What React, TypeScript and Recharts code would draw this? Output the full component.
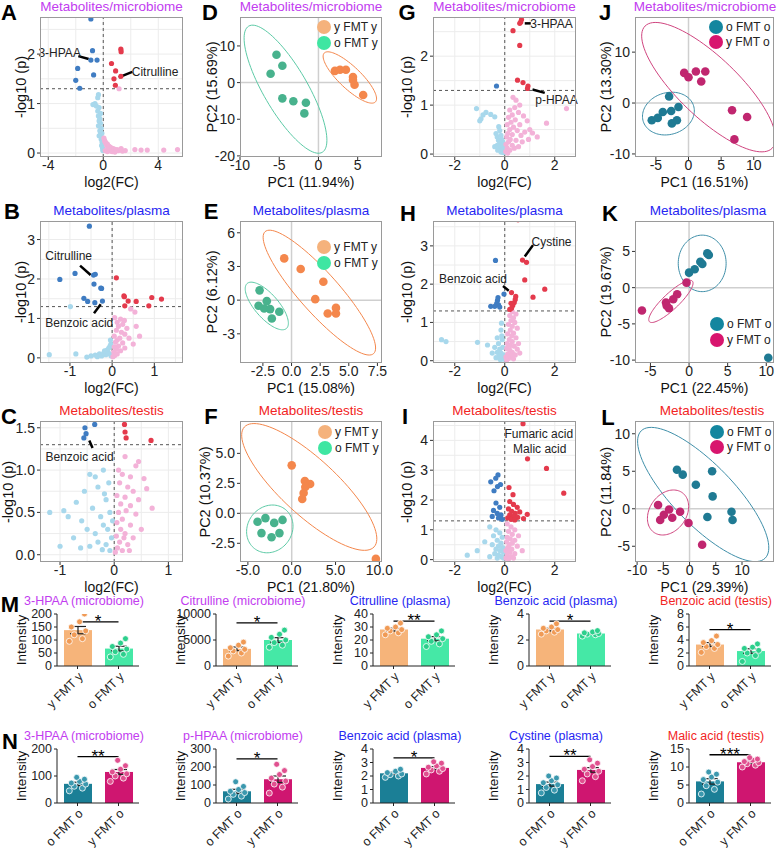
import React from 'react';
import {
  ScatterChart, Scatter, ComposedChart, Bar, ErrorBar, Cell, XAxis, YAxis,
  CartesianGrid, ReferenceLine, ReferenceDot,
} from 'recharts';

type Pt = [number, number];

const FONT = '"Liberation Sans", Arial, Helvetica, sans-serif';
const MICRO = '#c23cf0';
const PLASMA = '#2626f2';
const TESTIS = '#f22424';

// volcano colours
const BLUE = '#3f7cc2';
const LBLUE = '#a8d8ec';
const RED = '#e43a4c';
const PINK = '#f3b2d8';

// ---------- A: volcano, microbiome (young donors) ----------
const aUp: Pt[] = [[1.28, 2.1], [1.3, 2.05], [0.6, 1.81], [0.9, 1.66], [0.78, 1.5], [1.28, 1.55], [0.88, 1.37]];
const aDown: Pt[] = [[-0.9, 2.71], [-0.78, 2.07], [-0.9, 1.88], [-0.45, 1.88], [-1.86, 1.71], [-0.7, 1.58], [-2.0, 1.47], [-1.71, 1.31]];
const aNsDown: Pt[] = [[-0.35, 1.18], [-0.4, 1.12], [-0.6, 1.0], [-0.75, 0.98], [-0.5, 0.95], [-0.3, 0.92], [-0.4, 0.85], [-0.2, 0.8], [-0.35, 0.75], [-0.25, 0.7], [-0.3, 0.65], [-0.2, 0.6], [-0.35, 0.55], [-0.15, 0.5], [-0.25, 0.45], [-0.1, 0.4], [-0.2, 0.38], [-0.3, 0.35], [-0.05, 0.3], [-0.15, 0.28], [-0.08, 0.22], [-0.02, 0.18], [-0.12, 0.15], [-0.05, 0.1], [-0.03, 0.05]];
const aNsUp: Pt[] = [[0.05, 0.3], [0.1, 0.25], [0.15, 0.22], [0.2, 0.2], [0.3, 0.18], [0.25, 0.15], [0.4, 0.14], [0.5, 0.12], [0.35, 0.1], [0.6, 0.1], [0.7, 0.09], [0.8, 0.08], [0.9, 0.06], [1.0, 0.07], [1.1, 0.05], [1.2, 0.06], [1.4, 0.04], [1.6, 0.05], [0.45, 0.06], [0.55, 0.04], [0.15, 0.05], [0.3, 0.03], [0.65, 0.03], [0.85, 0.02], [1.3, 0.09], [2.3, 0.07], [2.75, 0.06], [3.2, 0.06], [4.4, 0.06], [5.4, 0.07], [1.15, 1.3]];

// ---------- B: volcano, plasma (young donors) ----------
const bUp: Pt[] = [[0.1, 2.03], [0.28, 1.57], [0.29, 1.55], [0.38, 1.44], [0.57, 1.43], [0.3, 1.32], [0.94, 1.53], [1.17, 1.49], [0.87, 1.32]];
const bDown: Pt[] = [[-0.54, 3.34], [-1.24, 1.99], [-0.88, 2.14], [-0.44, 2.1], [-0.4, 2.12], [-0.43, 1.87], [-0.25, 1.76], [-0.27, 1.77], [-0.67, 1.51], [-0.58, 1.43], [-0.41, 1.4], [-0.23, 1.44]];
const bNsDown: Pt[] = [[-0.99, 1.3], [-1.49, 0.08], [-0.86, 0.1], [-0.6, 0.02], [-0.5, 0.05], [-0.4, 0.07], [-0.3, 0.1], [-0.25, 0.05], [-0.2, 0.12], [-0.15, 0.08], [-0.12, 0.2], [-0.1, 0.15], [-0.08, 0.25], [-0.05, 0.3], [-0.06, 0.1], [-0.03, 0.35], [-0.02, 0.05], [-0.35, 0.03], [-0.18, 0.18], [-0.04, 0.45]];
const bNsUp: Pt[] = [[0.44, 1.24], [0.54, 1.16], [0.06, 1.02], [0.2, 0.98], [0.29, 0.95], [0.12, 0.9], [0.25, 0.85], [0.15, 0.8], [0.57, 0.8], [0.35, 0.75], [0.1, 0.7], [0.22, 0.65], [0.3, 0.6], [0.05, 0.55], [0.18, 0.5], [0.12, 0.45], [0.4, 0.5], [0.08, 0.4], [0.25, 0.38], [0.15, 0.3], [0.05, 0.28], [0.3, 0.25], [0.1, 0.22], [0.2, 0.18], [0.04, 0.15], [0.12, 0.1], [0.06, 0.06], [0.02, 0.03], [0.5, 0.35], [0.65, 0.55]];

// ---------- C: volcano, testis (young donors) ----------
const cUp: Pt[] = [[0.19, 1.54], [0.2, 1.45], [0.22, 1.38], [0.68, 1.35]];
const cDown: Pt[] = [[-0.36, 1.54], [-0.54, 1.5], [-0.52, 1.43], [-0.56, 1.38]];
const cNsDown: Pt[] = [[-1.19, 0.5], [-0.93, 0.52], [-0.85, 0.45], [-0.45, 0.95], [-0.35, 0.92], [-0.2, 1.0], [-0.55, 0.75], [-0.7, 0.62], [-0.3, 0.8], [-0.1, 0.85], [-0.15, 0.65], [-0.4, 0.55], [-0.6, 0.4], [-0.25, 0.45], [-0.08, 0.5], [-0.5, 0.3], [-0.35, 0.25], [-0.2, 0.35], [-0.75, 0.2], [-0.12, 0.3], [-0.05, 0.2], [-0.3, 0.15], [-0.45, 0.1], [-0.15, 0.12], [-0.08, 0.05], [-0.22, 0.06], [-1.0, 0.1], [-0.62, 0.08], [-0.03, 0.4], [-0.18, 0.72]];
const cNsUp: Pt[] = [[0.2, 1.16], [0.45, 1.1], [0.4, 1.05], [0.15, 0.95], [0.3, 0.92], [0.55, 0.9], [0.1, 0.85], [0.25, 0.8], [0.6, 0.78], [0.35, 0.75], [0.05, 0.7], [0.2, 0.68], [0.45, 0.65], [0.12, 0.6], [0.3, 0.58], [0.08, 0.5], [0.22, 0.52], [0.4, 0.48], [0.15, 0.42], [0.05, 0.38], [0.3, 0.35], [0.12, 0.3], [0.2, 0.25], [0.04, 0.22], [0.35, 0.2], [0.1, 0.15], [0.25, 0.12], [0.06, 0.08], [0.15, 0.05], [0.02, 0.03], [0.5, 0.3], [0.7, 0.55], [0.08, 1.0], [0.18, 0.2], [0.28, 0.05]];

// ---------- G: volcano, microbiome (old recipients) ----------
const gUp: Pt[] = [[0.67, 2.75], [0.64, 2.7], [0.6, 2.67], [0.33, 2.52], [0.6, 2.22], [0.51, 1.51], [0.73, 1.46], [0.93, 1.39], [0.91, 1.34]];
const gDown: Pt[] = [[-0.33, 1.39]];
const gNsDown: Pt[] = [[-1.13, 0.93], [-0.87, 0.8], [-0.95, 0.72], [-0.75, 0.85], [-0.56, 0.81], [-0.4, 0.76], [-1.0, 0.68], [-0.24, 0.56], [-0.2, 0.48], [-0.35, 0.42], [-0.3, 0.35], [-0.15, 0.38], [-0.25, 0.28], [-0.12, 0.3], [-0.2, 0.22], [-0.08, 0.25], [-0.3, 0.18], [-0.15, 0.15], [-0.05, 0.18], [-0.22, 0.1], [-0.1, 0.08], [-0.03, 0.1], [-0.15, 0.04], [-0.06, 0.03], [-0.4, 0.15], [-0.28, 0.08]];
const gNsUp: Pt[] = [[0.33, 1.16], [0.45, 1.1], [0.6, 1.0], [0.4, 0.95], [0.2, 0.9], [0.55, 0.85], [0.3, 0.8], [0.75, 0.78], [0.15, 0.75], [0.42, 0.7], [0.25, 0.65], [0.9, 0.68], [0.6, 0.6], [2.47, 0.93], [1.67, 0.63], [1.11, 0.43], [1.0, 0.5], [0.1, 0.6], [0.35, 0.55], [0.2, 0.5], [0.5, 0.48], [0.8, 0.45], [0.12, 0.42], [0.3, 0.4], [0.65, 0.38], [0.08, 0.35], [0.22, 0.3], [0.45, 0.28], [0.15, 0.25], [0.05, 0.2], [0.3, 0.18], [0.1, 0.12], [0.2, 0.08], [0.04, 0.05], [0.38, 0.12], [0.7, 0.25], [1.3, 0.35], [0.95, 0.3], [0.55, 0.15], [0.12, 0.02]];

// ---------- H: volcano, plasma (old recipients) ----------
const hUp: Pt[] = [[0.53, 3.68], [0.71, 2.63], [0.87, 2.57], [0.8, 2.11], [1.6, 1.87], [1.13, 1.66], [0.27, 1.78], [0.44, 1.68], [0.42, 1.6], [0.38, 1.52], [0.25, 1.5], [0.32, 1.44], [0.27, 1.37], [0.2, 1.34]];
const hDown: Pt[] = [[-0.37, 2.62], [-0.03, 1.74], [-0.27, 1.65], [-0.29, 1.58], [-0.32, 1.5], [-0.25, 1.46], [-0.56, 1.42], [-0.4, 1.42], [-0.2, 1.4]];
const hNsDown: Pt[] = [[-2.53, 0.55], [-2.35, 0.5], [-1.09, 0.48], [-0.69, 0.41], [-0.13, 0.98], [-0.15, 0.8], [-0.3, 0.6], [-0.25, 0.45], [-0.1, 0.55], [-0.4, 0.35], [-0.2, 0.3], [-0.08, 0.35], [-0.3, 0.22], [-0.15, 0.2], [-0.05, 0.15], [-0.22, 0.12], [-0.1, 0.08], [-0.35, 0.08], [-0.04, 0.04], [-0.18, 0.03], [-0.5, 0.2], [-0.12, 0.65]];
const hNsUp: Pt[] = [[0.3, 1.28], [0.45, 1.22], [0.2, 1.18], [0.35, 1.12], [0.25, 1.05], [0.4, 1.0], [0.15, 0.95], [0.3, 0.9], [0.5, 0.85], [0.22, 0.8], [0.35, 0.72], [0.12, 0.7], [0.28, 0.65], [0.45, 0.6], [0.18, 0.55], [0.3, 0.5], [0.1, 0.45], [0.22, 0.4], [0.38, 0.38], [0.08, 0.32], [0.2, 0.28], [0.3, 0.22], [0.12, 0.18], [0.25, 0.12], [0.05, 0.1], [0.15, 0.06], [0.35, 0.05], [0.08, 0.02], [0.55, 0.45], [0.5, 0.3], [0.6, 0.2], [0.42, 0.15]];

// ---------- I: volcano, testis (old recipients) ----------
const iUp: Pt[] = [[0.73, 4.56], [0.91, 3.38], [1.67, 3.06], [2.36, 2.23], [0.17, 2.42], [0.33, 2.18], [0.2, 1.95], [0.35, 1.85], [0.5, 1.75], [0.15, 1.7], [0.28, 1.62], [0.6, 1.6], [0.42, 1.55], [0.2, 1.5], [0.35, 1.45], [0.52, 1.42], [0.12, 1.4], [0.25, 1.35], [0.4, 1.33], [0.75, 1.38], [0.9, 1.52]];
const iDown: Pt[] = [[-0.27, 2.84], [-0.36, 2.73], [-0.17, 2.52], [-0.56, 2.61], [-0.29, 2.45], [-0.43, 2.31], [-0.35, 1.9], [-0.2, 1.75], [-0.45, 1.65], [-0.3, 1.55], [-0.15, 1.5], [-0.5, 1.45], [-0.25, 1.4], [-0.1, 1.35]];
const iNsDown: Pt[] = [[-0.6, 1.1], [-0.35, 1.0], [-0.2, 0.9], [-0.45, 0.8], [-0.1, 0.75], [-0.3, 0.65], [-0.15, 0.55], [-0.5, 0.5], [-0.25, 0.45], [-0.08, 0.4], [-0.35, 0.35], [-0.18, 0.3], [-0.05, 0.25], [-0.4, 0.2], [-0.25, 0.15], [-0.12, 0.1], [-0.6, 0.1], [-0.3, 0.05], [-0.05, 0.05], [-1.1, 0.3], [-1.5, 0.15], [-0.8, 0.6]];
const iNsUp: Pt[] = [[0.1, 1.2], [0.25, 1.1], [0.4, 1.0], [0.15, 0.95], [0.3, 0.85], [0.55, 0.8], [0.1, 0.75], [0.22, 0.7], [0.4, 0.65], [0.08, 0.6], [0.3, 0.55], [0.18, 0.5], [0.5, 0.45], [0.12, 0.4], [0.28, 0.35], [0.05, 0.3], [0.2, 0.25], [0.4, 0.2], [0.1, 0.15], [0.25, 0.1], [0.05, 0.05], [0.35, 0.05], [0.7, 0.3], [0.15, 0.02]];

// ---------- PCA scores ----------
const dYoung: Pt[] = [[2.1, 3.2], [2.75, 3.5], [3.5, 3.5], [4.4, 1.5], [4.4, 0.7], [4.6, -0.6], [5.7, -3.4]];
const dOld: Pt[] = [[-5.35, 7.6], [-6.1, 2.4], [-4.6, 4.6], [-4.6, -4.3], [-3.2, -5.1], [-1.6, -5.5], [-1.8, -8.4]];
const eYoung: Pt[] = [[-0.64, 3.72], [0.8, 2.77], [2.78, 1.64], [2.07, 0.09], [3.16, -1.19], [3.88, -0.69], [3.88, -1.19]];
const eOld: Pt[] = [[-2.79, 0.87], [-2.16, -0.09], [-2.88, -0.5], [-2.39, -0.74], [-1.87, -0.8], [-1.07, -1.04], [-1.72, -1.63]];
const fYoung: Pt[] = [[0, 4.0], [1.5, 2.7], [2.1, 2.45], [1.55, 2.2], [1.36, 1.7], [1.2, 1.2], [9.6, -3.8]];
const fOld: Pt[] = [[-3.9, -0.7], [-3.0, -0.4], [-2.0, -0.8], [-1.05, -0.55], [-3.45, -1.65], [-2.3, -2.0], [-1.4, -1.65]];
const jOld: Pt[] = [[-2.97, 1.3], [-3.94, -1.75], [-2.66, -1.56], [-1.54, -0.78], [-5.63, -3.37], [-4.71, -2.92], [-2.55, -4.0], [-1.78, -3.37]];
const jYoung: Pt[] = [[-0.66, 5.92], [0, 5.07], [1.13, 6.18], [1.95, 4.23], [2.57, 6.18], [6.67, -1.42], [8.98, -2.73], [7.03, -7.14]];
const kOld: Pt[] = [[2.36, 4.73], [2.56, 4.5], [1.46, 3.58], [1.72, 3.26], [0.73, 2.53], [0, 2.07], [10.26, -9.67]];
const kYoung: Pt[] = [[-0.33, 0.69], [-1.54, -0.91], [-2.05, -1.6], [-2.99, -2.06], [-2.9, -2.48], [-2.6, -2.84], [-6.1, -3.16]];
const lOld: Pt[] = [[-2.4, 5.2], [-1.3, 4.55], [4.3, 5.0], [1.2, 3.2], [4.4, 1.65], [8.0, -0.4], [8.2, -1.5], [3.4, -1.1]];
const lYoung: Pt[] = [[-6.0, 0.5], [-4.9, -0.8], [-3.3, -1.2], [-1.8, -0.4], [-0.2, -1.9], [-3.9, -0.1], [2.4, -4.8], [-5.6, -1.5]];

// confidence ellipses: centre x, centre y, axis-1 (dx, dy), axis-2 (dx, dy)
const dEllY = [4.0, 1.4, 3.27, -6.65, 0.95, 2.2];
const dEllO = [-4.2, -1.8, -4.7, 17.2, 2.4, 3.1];
const eEllY = [2.43, 0.67, -4.74, 5.43, 1.28, 1.2];
const eEllO = [-2.16, -0.52, -1.72, 2.0, 0.77, 0.71];
const fEllY = [2.0, 2.2, 7.4, -5.0, 2.16, 1.72];
const fEllO = [-2.5, -1.3, 2.6, 0.6, -0.5, 1.9];
const jEllO = [-3.08, -2.07, 3.85, 1.56, 0.98, -3.9];
const jEllY = [3.08, 3.12, 9.74, -12.0, 3.22, 4.19];
const kEllO = [1.7, 3.35, 3.1, 0, 0, 3.9];
const kEllY = [-2.35, -1.9, 2.78, 2.8, 0.7, -0.8];
const lEllO = [2.6, 1.9, -11.8, 8.5, 4.15, 2.8];
const lEllY = [-4.1, -0.5, 3.8, 1.5, -1.0, 2.6];

// ---------- bar charts ----------
const M_CATS = ['y FMT y', 'o FMT y'];
const N_CATS = ['o FMT o', 'y FMT o'];

const m1Vals = [[95, 105, 120, 135, 150, 170, 200], [35, 45, 55, 65, 75, 88, 105]];
const m1Mean = [138, 67];
const m1Sem = [14, 9];
const m2Vals = [[1900, 2500, 2900, 3200, 3500, 4000, 4600], [3600, 4000, 4500, 5000, 5500, 6100, 6900]];
const m2Mean = [3300, 5000];
const m2Sem = [350, 450];
const m3Vals = [[24, 25.5, 27, 28, 29, 30, 33], [15, 17, 19, 21, 22.5, 24, 27]];
const m3Mean = [28, 21];
const m3Sem = [1.1, 1.6];
const m4Vals = [[2.45, 2.6, 2.7, 2.8, 2.9, 3.0, 3.25], [2.3, 2.4, 2.45, 2.5, 2.55, 2.62, 2.72]];
const m4Mean = [2.8, 2.5];
const m4Sem = [0.1, 0.06];
const m5Vals = [[2.1, 2.7, 3.0, 3.3, 3.6, 3.9, 4.6], [0.7, 1.6, 2.0, 2.4, 2.7, 2.9, 3.4]];
const m5Mean = [3.3, 2.3];
const m5Sem = [0.3, 0.35];
const n1Vals = [[45, 55, 62, 70, 74, 80, 88, 95], [80, 92, 100, 108, 115, 125, 138, 158]];
const n1Mean = [71, 115];
const n1Sem = [6, 9];
const n2Vals = [[22, 38, 48, 58, 65, 75, 92, 118], [55, 88, 105, 122, 138, 158, 180, 215]];
const n2Mean = [65, 132];
const n2Sem = [11, 18];
const n3Vals = [[1.9, 2.0, 2.1, 2.15, 2.25, 2.35, 2.5], [2.15, 2.35, 2.45, 2.55, 2.65, 2.75, 2.95, 3.05]];
const n3Mean = [2.2, 2.6];
const n3Sem = [0.08, 0.1];
const n4Vals = [[0.75, 0.95, 1.15, 1.35, 1.5, 1.65, 1.85, 2.0], [1.65, 1.95, 2.15, 2.35, 2.5, 2.7, 2.95, 3.2]];
const n4Mean = [1.4, 2.45];
const n4Sem = [0.15, 0.17];
const n5Vals = [[2.5, 3.8, 4.8, 5.8, 6.5, 7.2, 8.0, 8.6], [10.0, 10.5, 10.9, 11.2, 11.5, 11.9, 12.2, 12.6]];
const n5Mean = [6, 11.3];
const n5Sem = [0.75, 0.3];

// horizontal spread of the individual points inside each bar (category units)
const JITTER = [-0.2, 0.12, -0.08, 0.2, -0.15, 0.05, 0.17, -0.02];

const toXY = (a: Pt[]) => a.map(([x, y]) => ({ x, y }));
const ring = (e: number[]) => {
  const [cx, cy, ax, ay, bx, by] = e;
  const out = [];
  for (let i = 0; i <= 96; i++) {
    const t = (i / 96) * Math.PI * 2;
    out.push({ x: cx + ax * Math.cos(t) + bx * Math.sin(t), y: cy + ay * Math.cos(t) + by * Math.sin(t) });
  }
  return out;
};
const dotShape = (r: number, fill: string, stroke = 'none') => (p: any) => (
  <circle cx={p.cx} cy={p.cy} r={r} fill={fill} stroke={stroke} strokeWidth={0.8} />
);
const noShape = () => <g />;
const fix1 = (v: number) => v.toFixed(1);

const TICK = { fontSize: 14, fill: '#222', fontFamily: FONT };
const RM = 16; // spare room right of each plot so edge tick labels are not clipped

function Txt({ x, y, children, color = '#111', size = 14, rotate = false, bold = false }: any) {
  return (
    <div style={{
      position: 'absolute', left: x, top: y, whiteSpace: 'nowrap', fontSize: size, color,
      fontFamily: FONT, fontWeight: bold ? 700 : 400, lineHeight: 1,
      transform: `translate(-50%, -50%)${rotate ? ' rotate(-90deg)' : ''}`,
    }}>{children}</div>
  );
}

function Frame({ rect }: { rect: number[] }) {
  const [x0, y0, x1, y1] = rect;
  return <div style={{ position: 'absolute', left: x0, top: y0, width: x1 - x0, height: y1 - y0, border: '1px solid #9a9a9a', boxSizing: 'border-box', pointerEvents: 'none' }} />;
}

function Decor({ p }: any) {
  const [x0, y0, x1, y1] = p.rect;
  const cx = (x0 + x1) / 2;
  return (
    <>
      <Txt x={p.letter[0]} y={p.letter[1]} size={22} bold color="#000">{p.letterText}</Txt>
      <Txt x={p.titleX ?? cx} y={y0 - 10} size={13.5} color={p.tcol}>{p.title}</Txt>
      <Txt x={cx} y={y1 + 25} size={14}>{p.xlab}</Txt>
      <Txt x={p.ylabX} y={(y0 + y1) / 2} size={14.5} rotate>{p.ylab}</Txt>
      <Frame rect={p.rect} />
    </>
  );
}

function Volcano(p: any) {
  const [x0, y0, x1, y1] = p.rect;
  return (
    <>
      <div style={{ position: 'absolute', left: x0 - 40, top: y0 }}>
        <ScatterChart width={x1 - x0 + 40 + RM} height={y1 - y0 + 20} margin={{ top: 0, right: RM, left: 0, bottom: 0 }}>
          <CartesianGrid stroke="#ececec" verticalValues={p.gx} horizontalValues={p.gy} />
          <XAxis type="number" dataKey="x" domain={p.xd} ticks={p.xt} interval={0} allowDataOverflow axisLine={false}
            tickSize={3} tickMargin={0} tickLine={{ stroke: '#333' }} tick={TICK} height={20} tickFormatter={p.xf} />
          <YAxis type="number" dataKey="y" domain={p.yd} ticks={p.yt} interval={0} allowDataOverflow axisLine={false}
            tickSize={3} tickLine={{ stroke: '#333' }} tick={TICK} width={40} tickFormatter={p.yf} />
          <ReferenceLine x={0} stroke="#555" strokeDasharray="3 3" />
          <ReferenceLine y={1.3} stroke="#555" strokeDasharray="3 3" />
          <Scatter data={toXY(p.nsDown)} shape={dotShape(2.6, LBLUE)} isAnimationActive={false} />
          <Scatter data={toXY(p.nsUp)} shape={dotShape(2.6, PINK)} isAnimationActive={false} />
          <Scatter data={toXY(p.down)} shape={dotShape(2.6, BLUE)} isAnimationActive={false} />
          <Scatter data={toXY(p.up)} shape={dotShape(2.6, RED)} isAnimationActive={false} />
          {p.pointers.map((s: number[], i: number) => (
            <ReferenceLine key={'s' + i} segment={[{ x: s[0], y: s[1] }, { x: s[2], y: s[3] }]} stroke="#000" strokeWidth={2.5} />
          ))}
          {p.notes.map((n: any[], i: number) => (
            <ReferenceDot key={'n' + i} x={n[1]} y={n[2]} r={0} fill="none" stroke="none"
              label={{ value: n[0], position: 'center', fontSize: 12, fill: '#222', fontFamily: FONT }} />
          ))}
        </ScatterChart>
      </div>
      <Decor p={{ ...p, xlab: 'log2(FC)', ylab: '-log10 (p)' }} />
    </>
  );
}

function Pca(p: any) {
  const [x0, y0, x1, y1] = p.rect;
  return (
    <>
      <div style={{ position: 'absolute', left: x0 - 40, top: y0 }}>
        <ScatterChart width={x1 - x0 + 40 + RM} height={y1 - y0 + 20} margin={{ top: 0, right: RM, left: 0, bottom: 0 }}>
          <XAxis type="number" dataKey="x" domain={p.xd} ticks={p.xt} interval={0} allowDataOverflow axisLine={false}
            tickSize={3} tickMargin={0} tickLine={{ stroke: '#333' }} tick={TICK} height={20} tickFormatter={p.xf} />
          <YAxis type="number" dataKey="y" domain={p.yd} ticks={p.yt} interval={0} allowDataOverflow axisLine={false}
            tickSize={3} tickLine={{ stroke: '#333' }} tick={TICK} width={40} tickFormatter={p.yf} />
          <ReferenceLine x={0} stroke="#cfcfcf" strokeWidth={1.5} />
          <ReferenceLine y={0} stroke="#cfcfcf" strokeWidth={1.5} />
          <Scatter data={ring(p.ell1)} shape={noShape} line={{ stroke: p.lc1, strokeWidth: 1 }} lineType="joint" isAnimationActive={false} />
          <Scatter data={ring(p.ell2)} shape={noShape} line={{ stroke: p.lc2, strokeWidth: 1 }} lineType="joint" isAnimationActive={false} />
          <Scatter data={toXY(p.g1)} shape={dotShape(4.3, p.c1)} isAnimationActive={false} />
          <Scatter data={toXY(p.g2)} shape={dotShape(4.3, p.c2)} isAnimationActive={false} />
        </ScatterChart>
      </div>
      <Decor p={p} />
      {p.legend.map((l: any, i: number) => (
        <div key={i} style={{ position: 'absolute', left: l[2] - 7, top: l[3] - 7, display: 'flex', alignItems: 'center', fontFamily: FONT, fontSize: 12, lineHeight: '14px', color: '#222', whiteSpace: 'nowrap' }}>
          <div style={{ width: 14, height: 14, borderRadius: 7, background: l[1], marginRight: 3 }} />
          {l[0]}
        </div>
      ))}
    </>
  );
}

function BarPanel(p: any) {
  const [x0, y0, x1, y1] = p.rect;
  const data = p.cats.map((c: string, i: number) => ({ name: c, mean: p.mean[i], sem: p.sem[i] }));
  const pts = p.vals.map((arr: number[], g: number) => arr.map((v, j) => ({ x: g + 1 + JITTER[j], y: v })));
  const tk = { fontSize: 12.5, fill: '#222', fontFamily: FONT };
  return (
    <>
      <div style={{ position: 'absolute', left: x0 - 45, top: y0 - 10 }}>
        <ComposedChart width={x1 - x0 + 47} height={y1 - y0 + 58} data={data} margin={{ top: 10, right: 2, left: 0, bottom: 0 }}>
          <XAxis xAxisId="c" dataKey="name" type="category" angle={-45} textAnchor="end" interval={0} height={48}
            tickSize={3} tick={tk} axisLine={{ stroke: '#222' }} tickLine={{ stroke: '#222' }} />
          <XAxis xAxisId="n" type="number" dataKey="x" domain={[0.5, 2.5]} hide allowDataOverflow />
          <YAxis type="number" domain={p.yd} ticks={p.yt} interval={0} allowDataOverflow width={45}
            tickSize={3} tick={tk} axisLine={{ stroke: '#222' }} tickLine={{ stroke: '#222' }} />
          <Bar xAxisId="c" dataKey="mean" barSize={28} isAnimationActive={false}>
            {data.map((d: any, i: number) => <Cell key={i} fill={p.fills[i]} />)}
            <ErrorBar dataKey="sem" width={8} stroke="#222" strokeWidth={1.2} direction="y" />
          </Bar>
          {pts.map((d: any, g: number) => (
            <Scatter key={g} xAxisId="n" data={d} dataKey="y" shape={dotShape(3, p.dots[g], '#ffffff')} isAnimationActive={false} />
          ))}
          <ReferenceLine xAxisId="n" segment={[{ x: 1, y: p.sigY }, { x: 2, y: p.sigY }]} stroke="#000" strokeWidth={1.3} />
          <ReferenceDot xAxisId="n" x={1.5} y={p.sigY} r={0} fill="none" stroke="none"
            label={{ value: p.sig, position: 'top', offset: -5, fontSize: 17, fill: '#000', fontFamily: FONT }} />
        </ComposedChart>
      </div>
      <Txt x={(x0 + x1) / 2 - 14} y={y0 - 13} size={12.5} color={p.tcol}>{p.title}</Txt>
      <Txt x={x0 - 35} y={(y0 + y1) / 2} size={13.5} rotate>Intensity</Txt>
    </>
  );
}

const M_FILL = ['#f6b47a', '#45e8a6'];
const M_DOT = ['#f09a55', '#2ccf8c'];
const N_FILL = ['#1b7f96', '#cf1670'];
const N_DOT = ['#3b98ae', '#e0508f'];

export default function App() {
  const ROW1 = 17, ROW1B = 157, ROW2 = 221, ROW2B = 363, ROW3 = 421, ROW3B = 562;
  const C1 = [40, 183], C2 = [240, 382], C3 = [433, 576], C4 = [635, 774];
  const BM = [614, 666], BN = [749, 803];
  const BX = [57, 216, 373, 529, 689];
  const BW = 82;
  return (
    <div style={{ position: 'absolute', left: 0, top: 0, width: 777, height: 867, background: '#fff', overflow: 'hidden', fontFamily: FONT }}>
      {/* column 1 */}
      <Volcano rect={[C1[0], ROW1, C1[1], ROW1B]} letter={[9, 13]} letterText="A" title="Metabolites/microbiome" tcol={MICRO} ylabX={21}
        xd={[-4.6, 5.8]} yd={[-0.08, 2.75]} xt={[-4, 0, 4]} yt={[0, 1, 2]} gx={[-4, -2, 0, 2, 4]} gy={[0, 0.5, 1, 1.5, 2, 2.5]}
        up={aUp} down={aDown} nsUp={aNsUp} nsDown={aNsDown}
        notes={[['3-HPAA', -3.17, 2.02], ['Citrulline', 3.77, 1.64]]}
        pointers={[[-1.81, 1.96, -1.06, 1.9], [1.13, 1.53, 2.11, 1.64]]} />
      <Volcano rect={[C1[0], ROW2, C1[1], ROW2B]} letter={[12, 212]} letterText="B" title="Metabolites/plasma" tcol={PLASMA} ylabX={21}
        xd={[-1.71, 1.68]} yd={[-0.13, 3.47]} xt={[-1, 0, 1]} yt={[0, 1, 2, 3]} gx={[-1.5, -1, -0.5, 0, 0.5, 1, 1.5]} gy={[0, 0.5, 1, 1.5, 2, 2.5, 3]}
        up={bUp} down={bDown} nsUp={bNsUp} nsDown={bNsDown}
        notes={[['Citrulline', -1.03, 2.59], ['Benzoic acid', -0.78, 0.88]]}
        pointers={[[-0.76, 2.34, -0.51, 2.1], [-0.43, 1.13, -0.27, 1.36]]} />
      <Volcano rect={[C1[0], ROW3, C1[1], ROW3B]} letter={[9, 417]} letterText="C" title="Metabolites/testis" tcol={TESTIS} ylabX={8}
        xd={[-1.37, 1.27]} yd={[-0.086, 1.58]} xt={[-1, 0, 1]} yt={[0, 0.5, 1, 1.5]} yf={fix1} gx={[-1, -0.5, 0, 0.5, 1]} gy={[0, 0.25, 0.5, 0.75, 1, 1.25, 1.5]}
        up={cUp} down={cDown} nsUp={cNsUp} nsDown={cNsDown}
        notes={[['Benzoic acid', -0.64, 1.16]]}
        pointers={[[-0.46, 1.35, -0.4, 1.26]]} />

      {/* column 2 */}
      <Pca rect={[C2[0], ROW1, C2[1], ROW1B]} letter={[210, 13]} letterText="D" title="Metabolites/microbiome" tcol={MICRO} ylabX={212}
        xlab="PC1 (11.94%)" ylab="PC2 (15.69%)" xd={[-10, 8.1]} yd={[-20.3, 17.9]} xt={[-10, -5, 0, 5]} yt={[-20, -10, 0, 10]}
        g1={dYoung} g2={dOld} c1="#f4874c" c2="#48b28d" ell1={dEllY} ell2={dEllO} lc1="#f4874c" lc2="#5ccaa6"
        legend={[['y FMT y', '#f5b27c', 324, 27], ['o FMT y', '#3fe6a2', 324, 43]]} />
      <Pca rect={[C2[0], ROW2, C2[1], ROW2B]} letter={[211, 212]} letterText="E" title="Metabolites/plasma" tcol={PLASMA} ylabX={212}
        xlab="PC1 (15.08%)" ylab="PC2 (6.12%)" xd={[-4.5, 7.9]} yd={[-5.6, 7.05]} xt={[-2.5, 0, 2.5, 5, 7.5]} yt={[-3, 0, 3, 6]} xf={fix1}
        g1={eYoung} g2={eOld} c1="#f4874c" c2="#48b28d" ell1={eEllY} ell2={eEllO} lc1="#f4874c" lc2="#5ccaa6"
        legend={[['y FMT y', '#f5b27c', 324, 247], ['o FMT y', '#3fe6a2', 324, 263]]} />
      <Pca rect={[C2[0], ROW3, C2[1], ROW3B]} letter={[211, 417]} letterText="F" title="Metabolites/testis" tcol={TESTIS} ylabX={205}
        xlab="PC1 (21.80%)" ylab="PC2 (10.37%)" xd={[-5.9, 10.3]} yd={[-4.06, 7.7]} xt={[-5, 0, 5, 10]} yt={[-2.5, 0, 2.5, 5]} xf={fix1} yf={fix1}
        g1={fYoung} g2={fOld} c1="#f4874c" c2="#48b28d" ell1={fEllY} ell2={fEllO} lc1="#f4874c" lc2="#5ccaa6"
        legend={[['y FMT y', '#f5b27c', 325, 432], ['o FMT y', '#3fe6a2', 325, 448]]} />

      {/* column 3 */}
      <Volcano rect={[C3[0], ROW1, C3[1], ROW1B]} letter={[407, 13]} letterText="G" title="Metabolites/microbiome" tcol={MICRO} ylabX={407}
        xd={[-2.87, 2.85]} yd={[-0.06, 2.8]} xt={[-2, 0, 2]} yt={[0, 1, 2]} gx={[-2, -1, 0, 1, 2]} gy={[0, 0.5, 1, 1.5, 2, 2.5]}
        up={gUp} down={gDown} nsUp={gNsUp} nsDown={gNsDown}
        notes={[['3-HPAA', 1.87, 2.67], ['p-HPAA', 2.07, 1.1]]}
        pointers={[[0.8, 2.67, 1.04, 2.67], [1.11, 1.32, 1.6, 1.25]]} />
      <Volcano rect={[C3[0], ROW2, C3[1], ROW2B]} letter={[408, 214]} letterText="H" title="Metabolites/plasma" tcol={PLASMA} ylabX={407}
        xd={[-2.87, 2.85]} yd={[-0.06, 3.65]} xt={[-2, 0, 2]} yt={[0, 1, 2, 3]} gx={[-2, -1, 0, 1, 2]} gy={[0, 0.5, 1, 1.5, 2, 2.5, 3, 3.5]}
        up={hUp} down={hDown} nsUp={hNsUp} nsDown={hNsDown}
        notes={[['Cystine', 1.87, 3.1], ['Benzoic acid', -1.27, 2.13]]}
        pointers={[[0.8, 2.72, 1.13, 3.02], [-0.07, 1.95, 0.16, 1.83]]} />
      <Volcano rect={[C3[0], ROW3, C3[1], ROW3B]} letter={[405, 417]} letterText="I" title="Metabolites/testis" tcol={TESTIS} ylabX={407}
        xd={[-2.87, 2.85]} yd={[-0.08, 4.65]} xt={[-2, 0, 2]} yt={[0, 1, 2, 3, 4]} gx={[-2, -1, 0, 1, 2]} gy={[0, 0.5, 1, 1.5, 2, 2.5, 3, 3.5, 4, 4.5]}
        up={iUp} down={iDown} nsUp={iNsUp} nsDown={iNsDown}
        notes={[['Fumaric acid', 1.36, 4.22], ['Malic acid', 1.4, 3.72]]}
        pointers={[]} />

      {/* column 4 */}
      <Pca rect={[C4[0], ROW1, C4[1], ROW1B]} letter={[605, 13]} letterText="J" title="Metabolites/microbiome" tcol={MICRO} ylabX={606} titleX={705}
        xlab="PC1 (16.51%)" ylab="PC2 (13.30%)" xd={[-8.2, 13.1]} yd={[-10.6, 16.9]} xt={[-5, 0, 5, 10]} yt={[-10, 0, 10]}
        g1={jOld} g2={jYoung} c1="#1f7a93" c2="#c0266f" ell1={jEllO} ell2={jEllY} lc1="#3f8fa9" lc2="#d0457f"
        legend={[['o FMT o', '#13869f', 716, 27], ['y FMT o', '#d8156e', 716, 42]]} />
      <Pca rect={[C4[0], ROW2, C4[1], ROW2B]} letter={[610, 214]} letterText="K" title="Metabolites/plasma" tcol={PLASMA} ylabX={606} titleX={708}
        xlab="PC1 (22.45%)" ylab="PC2 (19.67%)" xd={[-7, 11]} yd={[-10.4, 9.2]} xt={[-5, 0, 5, 10]} yt={[-10, -5, 0, 5]}
        g1={kOld} g2={kYoung} c1="#1f7a93" c2="#c0266f" ell1={kEllO} ell2={kEllY} lc1="#3f8fa9" lc2="#d0457f"
        legend={[['o FMT o', '#13869f', 717, 324], ['y FMT o', '#d8156e', 717, 340]]} />
      <Pca rect={[C4[0], ROW3, C4[1], ROW3B]} letter={[608, 418]} letterText="L" title="Metabolites/testis" tcol={TESTIS} ylabX={606} titleX={712}
        xlab="PC1 (29.39%)" ylab="PC2 (11.84%)" xd={[-10.4, 16.1]} yd={[-7.1, 11.7]} xt={[-10, -5, 0, 5, 10]} yt={[-5, 0, 5, 10]}
        g1={lOld} g2={lYoung} c1="#1f7a93" c2="#c0266f" ell1={lEllO} ell2={lEllY} lc1="#3f8fa9" lc2="#d0457f"
        legend={[['o FMT o', '#13869f', 717, 432], ['y FMT o', '#d8156e', 717, 447]]} />

      {/* bar rows */}
      <Txt x={10} y={605} size={22} bold color="#000">M</Txt>
      <Txt x={10} y={742} size={22} bold color="#000">N</Txt>
      <BarPanel rect={[BX[0], BM[0], BX[0] + BW, BM[1]]} title="3-HPAA (microbiome)" tcol={MICRO} cats={M_CATS} vals={m1Vals} mean={m1Mean} sem={m1Sem}
        yd={[0, 200]} yt={[0, 50, 100, 150, 200]} fills={M_FILL} dots={M_DOT} sigY={170} sig="*" />
      <BarPanel rect={[BX[1], BM[0], BX[1] + BW, BM[1]]} title="Citrulline (microbiome)" tcol={MICRO} cats={M_CATS} vals={m2Vals} mean={m2Mean} sem={m2Sem}
        yd={[0, 10000]} yt={[0, 5000, 10000]} fills={M_FILL} dots={M_DOT} sigY={8300} sig="*" />
      <BarPanel rect={[BX[2], BM[0], BX[2] + BW, BM[1]]} title="Citrulline (plasma)" tcol={PLASMA} cats={M_CATS} vals={m3Vals} mean={m3Mean} sem={m3Sem}
        yd={[0, 40]} yt={[0, 10, 20, 30, 40]} fills={M_FILL} dots={M_DOT} sigY={34.5} sig="**" />
      <BarPanel rect={[BX[3], BM[0], BX[3] + BW, BM[1]]} title="Benzoic acid (plasma)" tcol={PLASMA} cats={M_CATS} vals={m4Vals} mean={m4Mean} sem={m4Sem}
        yd={[0, 4]} yt={[0, 2, 4]} fills={M_FILL} dots={M_DOT} sigY={3.45} sig="*" />
      <BarPanel rect={[BX[4], BM[0], BX[4] + BW, BM[1]]} title="Benzoic acid (testis)" tcol={TESTIS} cats={M_CATS} vals={m5Vals} mean={m5Mean} sem={m5Sem}
        yd={[0, 8]} yt={[0, 2, 4, 6, 8]} fills={M_FILL} dots={M_DOT} sigY={5.6} sig="*" />

      <BarPanel rect={[BX[0], BN[0], BX[0] + BW, BN[1]]} title="3-HPAA (microbiome)" tcol={MICRO} cats={N_CATS} vals={n1Vals} mean={n1Mean} sem={n1Sem}
        yd={[0, 200]} yt={[0, 100, 200]} fills={N_FILL} dots={N_DOT} sigY={172} sig="**" />
      <BarPanel rect={[BX[1], BN[0], BX[1] + BW, BN[1]]} title="p-HPAA (microbiome)" tcol={MICRO} cats={N_CATS} vals={n2Vals} mean={n2Mean} sem={n2Sem}
        yd={[0, 300]} yt={[0, 100, 200, 300]} fills={N_FILL} dots={N_DOT} sigY={245} sig="*" />
      <BarPanel rect={[BX[2], BN[0], BX[2] + BW, BN[1]]} title="Benzoic acid (plasma)" tcol={PLASMA} cats={N_CATS} vals={n3Vals} mean={n3Mean} sem={n3Sem}
        yd={[0, 4]} yt={[0, 1, 2, 3, 4]} fills={N_FILL} dots={N_DOT} sigY={3.35} sig="*" />
      <BarPanel rect={[BX[3], BN[0], BX[3] + BW, BN[1]]} title="Cystine (plasma)" tcol={PLASMA} cats={N_CATS} vals={n4Vals} mean={n4Mean} sem={n4Sem}
        yd={[0, 4]} yt={[0, 1, 2, 3, 4]} fills={N_FILL} dots={N_DOT} sigY={3.45} sig="**" />
      <BarPanel rect={[BX[4], BN[0], BX[4] + BW, BN[1]]} title="Malic acid (testis)" tcol={TESTIS} cats={N_CATS} vals={n5Vals} mean={n5Mean} sem={n5Sem}
        yd={[0, 15]} yt={[0, 5, 10, 15]} fills={N_FILL} dots={N_DOT} sigY={13.4} sig="***" />
    </div>
  );
}
